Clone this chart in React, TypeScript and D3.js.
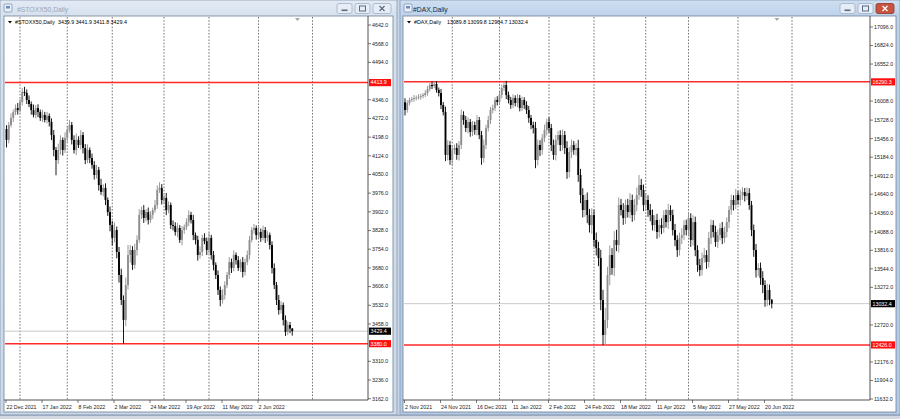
import React from 'react';
import * as d3 from 'd3';

// ---------- STOXX50 daily (22 Dec 2021 .. 23 Jun 2022) ----------
const STOXX_FIRST_OPEN = 4230;
const STOXX_CLOSE = [
  4187, 4246, 4274, 4297, 4313, 4305, 4337, 4377, 4373, 4345,
  4329, 4305, 4286, 4313, 4297, 4274, 4286, 4266, 4282, 4258,
  4206, 4147, 4107, 4147, 4187, 4147, 4195, 4226, 4246, 4187,
  4147, 4187, 4167, 4206, 4155, 4107, 4147, 4115, 4088, 4048,
  4068, 4008, 3981, 3997, 3949, 3901, 3850, 3799, 3830, 3743,
  3652, 3553, 3474, 3612, 3731, 3751, 3692, 3751, 3791, 3890,
  3909, 3878, 3901, 3870, 3890, 3909, 3929, 3989, 3997, 3949,
  3957, 3909, 3929, 3850, 3846, 3822, 3838, 3791, 3830, 3842,
  3862, 3890, 3870, 3810, 3791, 3731, 3743, 3799, 3786, 3751,
  3799, 3731, 3692, 3652, 3593, 3553, 3573, 3612, 3652, 3703,
  3680, 3731, 3711, 3680, 3703, 3664, 3703, 3731, 3791, 3830,
  3838, 3810, 3822, 3799, 3830, 3799, 3810, 3771, 3680, 3612,
  3553, 3513, 3533, 3474, 3426, 3454, 3439.9, 3429.4,
];
const STOXX_UPPER_WICK = [
  15, 12, 18, 10, 14, 20, 12, 16, 20, 14,
  18, 10, 22, 12, 15, 10, 20, 12, 16, 10,
  14, 20, 12, 25, 18, 10, 22, 15, 20, 12,
  18, 25, 14, 20, 12, 16, 22, 10, 18, 15,
  20, 12, 25, 14, 18, 10, 22, 16, 30, 14,
  20, 25, 18, 30, 40, 20, 15, 25, 18, 22,
  14, 20, 12, 18, 15, 10, 20, 18, 22, 15,
  12, 20, 14, 10, 18, 15, 20, 12, 16, 10,
  14, 18, 12, 20, 10, 16, 22, 12, 18, 14,
  20, 12, 16, 10, 18, 14, 22, 15, 12, 20,
  14, 18, 10, 16, 12, 20, 14, 18, 15, 12,
  16, 10, 20, 14, 18, 12, 15, 10, 14, 18,
  12, 20, 15, 10, 18, 14, 12, 2,
];
const STOXX_LOWER_WICK = [
  30, 14, 10, 16, 12, 18, 10, 14, 12, 16,
  12, 18, 10, 14, 20, 12, 16, 10, 14, 18,
  20, 25, 60, 15, 18, 22, 12, 16, 10, 18,
  14, 20, 12, 18, 22, 16, 12, 20, 15, 18,
  14, 22, 12, 18, 20, 15, 25, 30, 18, 25,
  30, 20, 94, 25, 18, 30, 20, 15, 22, 12,
  16, 20, 14, 18, 12, 16, 10, 15, 12, 18,
  14, 20, 12, 16, 18, 14, 20, 12, 22, 15,
  12, 16, 14, 20, 18, 22, 14, 16, 12, 20,
  14, 18, 22, 16, 20, 25, 14, 18, 12, 16,
  20, 14, 18, 12, 16, 22, 14, 12, 18, 10,
  14, 18, 12, 16, 10, 20, 14, 18, 22, 16,
  20, 18, 14, 22, 16, 12, 18, 17.6,
];
const STOXX_PRICE_TICKS = [4642, 4568, 4494, 4346, 4272, 4198, 4124, 4050, 3976, 3902, 3828, 3754, 3680, 3606, 3532, 3458, 3310, 3236, 3162];
const STOXX_LEVELS = [4413.9, 3380.0];
const STOXX_DATE_LABELS = ['22 Dec 2021', '17 Jan 2022', '8 Feb 2022', '2 Mar 2022', '24 Mar 2022', '19 Apr 2022', '11 May 2022', '2 Jun 2022'];
const STOXX_DATE_BARS = [0, 16, 32, 48, 64, 80, 96, 112];
const STOXX_MONTH_GRID = [6, 27, 47, 70, 90, 112, 136];
const STOXX_INFO = '3439.9 3441.9 3411.8 3429.4';

// ---------- DAX daily (2 Nov 2021 .. 23 Jun 2022) ----------
const DAX_FIRST_OPEN = 15990;
const DAX_CLOSE = [
  15877, 15980, 16024, 16038, 16053, 16060, 16068, 16082, 16097, 16126,
  16185, 16244, 16229, 16259, 16171, 16126, 15950, 15847, 15216, 15363,
  15142, 15289, 15319, 15216, 15363, 15803, 15730, 15612, 15700, 15554,
  15656, 15583, 15730, 15509, 15172, 15363, 15612, 15730, 15877, 15906,
  16024, 15994, 16097, 16200, 16244, 16097, 16024, 15950, 16053, 15980,
  16053, 15906, 16024, 15950, 15877, 15759, 15656, 15612, 15142, 15363,
  15289, 15465, 15583, 15700, 15612, 15363, 15216, 15436, 15509, 15363,
  15509, 15319, 14966, 15260, 15363, 15289, 15319, 14922, 14628, 14408,
  14555, 14334, 14187, 14334, 13967, 13850, 13703, 13086, 12572, 12792,
  13453, 13747, 13556, 13967, 13894, 14481, 14408, 14290, 14481, 14378,
  14555, 14334, 14481, 14628, 14775, 14702, 14481, 14555, 14408, 14334,
  14187, 14261, 14085, 14187, 14143, 14334, 14231, 14408, 14334, 14114,
  13967, 13820, 13996, 14040, 14187, 14114, 14290, 13967, 14231, 13820,
  13600, 13526, 13703, 13747, 13644, 13996, 14187, 14085, 13938, 14040,
  14143, 13996, 14085, 14231, 14408, 14555, 14481, 14628, 14555, 14628,
  14672, 14613, 14657, 14481, 14114, 13820, 13526, 13556, 13409, 13306,
  13086, 13233, 13089.8, 13032.4,
];
const DAX_UPPER_WICK = [
  60, 40, 35, 30, 45, 30, 40, 35, 30, 40,
  45, 30, 50, 31, 40, 35, 60, 45, 80, 70,
  60, 75, 50, 70, 60, 80, 55, 60, 70, 45,
  60, 50, 70, 45, 60, 80, 50, 60, 45, 50,
  40, 55, 45, 50, 41, 60, 50, 45, 55, 40,
  60, 45, 50, 40, 55, 60, 45, 50, 90, 80,
  70, 60, 80, 50, 70, 60, 80, 75, 60, 70,
  80, 60, 100, 70, 80, 60, 70, 120, 90, 100,
  80, 110, 90, 100, 80, 110, 90, 120, 150, 180,
  120, 140, 100, 130, 150, 110, 90, 100, 80, 90,
  100, 80, 90, 110, 147, 90, 80, 100, 70, 90,
  80, 70, 90, 80, 100, 70, 80, 90, 70, 80,
  90, 70, 80, 100, 70, 80, 90, 70, 100, 80,
  70, 90, 80, 100, 70, 90, 80, 70, 90, 80,
  70, 90, 80, 70, 60, 80, 70, 90, 60, 80,
  70, 60, 80, 70, 60, 80, 90, 70, 80, 100,
  70, 90, 80, 10,
];
const DAX_LOWER_WICK = [
  80, 40, 35, 30, 40, 35, 30, 40, 35, 30,
  40, 35, 45, 30, 40, 50, 60, 50, 90, 80,
  70, 80, 60, 70, 80, 60, 70, 60, 80, 70,
  60, 70, 80, 60, 100, 70, 60, 50, 60, 50,
  45, 50, 40, 50, 45, 60, 50, 55, 45, 50,
  60, 50, 45, 55, 60, 70, 60, 80, 120, 80,
  90, 70, 60, 80, 70, 90, 70, 80, 70, 90,
  80, 90, 100, 80, 90, 70, 80, 100, 120, 110,
  100, 120, 110, 130, 100, 110, 120, 150, 146, 160,
  120, 150, 100, 120, 90, 110, 80, 100, 90, 80,
  90, 100, 80, 90, 70, 100, 90, 80, 100, 90,
  80, 90, 100, 80, 90, 70, 80, 100, 90, 80,
  90, 100, 80, 90, 70, 80, 90, 100, 80, 90,
  100, 90, 80, 70, 100, 80, 90, 80, 70, 90,
  80, 90, 70, 80, 90, 70, 80, 60, 70, 80,
  70, 80, 60, 70, 90, 100, 110, 90, 100, 120,
  100, 90, 80, 67.7,
];
const DAX_PRICE_TICKS = [17096, 16824, 16552, 16008, 15728, 15456, 15184, 14912, 14640, 14360, 14088, 13816, 13544, 13272, 12720, 12176, 11904, 11632];
const DAX_LEVELS = [16290.3, 12426.0];
const DAX_DATE_LABELS = ['2 Nov 2021', '24 Nov 2021', '16 Dec 2021', '11 Jan 2022', '2 Feb 2022', '24 Feb 2022', '18 Mar 2022', '11 Apr 2022', '5 May 2022', '27 May 2022', '20 Jun 2022'];
const DAX_DATE_BARS = [0, 16, 32, 48, 64, 80, 96, 112, 128, 144, 160];
const DAX_MONTH_GRID = [21, 42, 64, 84, 107, 126, 148, 172];
const DAX_INFO = '13089.8 13099.8 12964.7 13032.4';

const FONT = 'Liberation Sans, Arial, sans-serif';

type PanelProps = {
  id: string;
  wx0: number; wx1: number; active: boolean; title: string;
  plotL: number; axisX: number; plotT: number; plotB: number;
  xRange: [number, number];
  yDomain: [number, number]; yRange: [number, number];
  firstOpen: number; closes: number[]; uw: number[]; lw: number[];
  priceTicks: number[]; levels: number[];
  dateLabels: string[]; dateBars: number[]; grid: number[];
  info: string; infoX: number; labelW: number;
};

function Button({ x, w, kind, active }: { x: number; w: number; kind: string; active: boolean }) {
  const isClose = kind === 'close' && active;
  const cx = x + w / 2, cy = 8.5;
  const ic = isClose ? '#fff' : '#5a6b82';
  return (
    <g>
      <rect x={x} y={3.5} width={w} height={10} rx={2} fill={isClose ? '#c8543f' : '#e6edf6'} stroke={isClose ? '#8d3526' : '#9fb0c6'} strokeWidth={0.8} />
      {kind === 'min' && <rect x={cx - 3} y={cy + 1} width={6} height={1.6} fill={ic} />}
      {kind === 'max' && <rect x={cx - 3} y={cy - 2.5} width={6} height={5} fill="none" stroke={ic} strokeWidth={1} />}
      {kind === 'close' && (
        <g stroke={ic} strokeWidth={1.3}>
          <line x1={cx - 2.5} y1={cy - 2.5} x2={cx + 2.5} y2={cy + 2.5} />
          <line x1={cx + 2.5} y1={cy - 2.5} x2={cx - 2.5} y2={cy + 2.5} />
        </g>
      )}
    </g>
  );
}

function Panel(p: PanelProps) {
  const x = d3.scaleLinear().domain([0, 160]).range(p.xRange);
  const y = d3.scaleLinear().domain(p.yDomain).range(p.yRange);
  const bars = p.closes.map((c, i) => {
    const o = i === 0 ? p.firstOpen : p.closes[i - 1];
    return { i, o, c, h: Math.max(o, c) + p.uw[i], l: Math.min(o, c) - p.lw[i] };
  });
  const last = p.closes[p.closes.length - 1];
  const clipId = `clip-${p.id}`;
  const frame = p.active ? `url(#frameA)` : `url(#frameI)`;
  const bw = 18;
  return (
    <g>
      <defs>
        <clipPath id={clipId}>
          <rect x={p.plotL} y={p.plotT} width={p.axisX - p.plotL} height={p.plotB - p.plotT} />
        </clipPath>
      </defs>
      {/* window frame */}
      <rect x={p.wx0} y={0} width={p.wx1 - p.wx0} height={415} fill={frame} stroke="#8798b0" strokeWidth={0.8} />
      {/* icon */}
      <rect x={p.wx0 + 4} y={4} width={8} height={8} rx={1} fill="#e9f0f8" stroke="#7d93b4" strokeWidth={0.8} />
      <rect x={p.wx0 + 6} y={6} width={4} height={2.5} fill="#6d8cc0" />
      <text x={p.wx0 + (p.active ? 13 : 17)} y={12} fontFamily={FONT} fontSize={6.8} fill={p.active ? '#1d2533' : '#9aa6b6'}>{p.title}</text>
      <Button x={p.wx1 - 60} w={bw - 3} kind="min" active={p.active} />
      <Button x={p.wx1 - 42} w={bw - 3} kind="max" active={p.active} />
      <Button x={p.wx1 - 24} w={bw} kind="close" active={p.active} />
      {/* client area */}
      <rect x={p.plotL - 1} y={p.plotT - 1} width={p.wx1 - p.wx0 - (p.plotL - 1 - p.wx0) - 4} height={412 - p.plotT + 1} fill="#ffffff" stroke="#6f7f95" strokeWidth={0.8} />
      {/* grid */}
      {p.grid.map((g) => (
        <line key={`g${g}`} x1={x(g)} x2={x(g)} y1={p.plotT} y2={p.plotB} stroke="#3a3a3a" strokeWidth={0.7} strokeDasharray="1.6 1.6" />
      ))}
      {/* last price line */}
      <line x1={p.plotL} x2={p.axisX} y1={y(last)} y2={y(last)} stroke="#c4c4c4" strokeWidth={0.9} />
      {/* levels */}
      {p.levels.map((lv) => (
        <line key={`l${lv}`} x1={p.plotL} x2={p.axisX} y1={y(lv)} y2={y(lv)} stroke="#ff2a2a" strokeWidth={1.5} />
      ))}
      {/* candles */}
      <g clipPath={`url(#${clipId})`}>
        {bars.map((b) => {
          const cx = x(b.i);
          const up = b.c >= b.o;
          const col = up ? '#8e8e8e' : '#000000';
          const yt = y(Math.max(b.o, b.c));
          const yb = y(Math.min(b.o, b.c));
          return (
            <g key={b.i}>
              <line x1={cx} x2={cx} y1={y(b.h)} y2={y(b.l)} stroke={col} strokeWidth={0.9} />
              <rect x={cx - 0.95} y={yt} width={1.9} height={Math.max(0.8, yb - yt)} fill={col} />
            </g>
          );
        })}
      </g>
      {/* chart shift marker */}
      <path d={`M${x(bars.length + 1.3) - 2.5},${p.plotT + 1} h5 l-2.5,3 z`} fill="#a8a8a8" />
      {/* info line */}
      <path d={`M${p.plotL + 3},${p.plotT + 4} h4 l-2,2.6 z`} fill="#000" />
      <text x={p.plotL + 10} y={p.plotT + 7} fontFamily={FONT} fontSize={5.3} fill="#000">{p.title}</text>
      <text x={p.infoX} y={p.plotT + 7} fontFamily={FONT} fontSize={5.3} fill="#000">{p.info}</text>
      {/* axes */}
      <line x1={p.axisX} x2={p.axisX} y1={p.plotT - 1} y2={p.plotB} stroke="#404040" strokeWidth={0.9} />
      <line x1={p.plotL - 1} x2={p.axisX} y1={p.plotB} y2={p.plotB} stroke="#404040" strokeWidth={0.9} />
      {p.priceTicks.map((t) => (
        <g key={`t${t}`}>
          <line x1={p.axisX} x2={p.axisX + 3} y1={y(t)} y2={y(t)} stroke="#404040" strokeWidth={0.7} />
          <text x={p.axisX + 4} y={y(t)} dy="0.35em" fontFamily={FONT} fontSize={5.3} fill="#1a1a1a">{t.toFixed(1)}</text>
        </g>
      ))}
      {p.levels.map((lv) => (
        <g key={`lv${lv}`}>
          <rect x={p.axisX + 1} y={y(lv) - 3.6} width={p.labelW} height={7.2} fill="#ff1010" />
          <text x={p.axisX + 2.5} y={y(lv)} dy="0.35em" fontFamily={FONT} fontSize={5.3} fill="#ffffff">{lv.toFixed(1)}</text>
        </g>
      ))}
      <rect x={p.axisX + 1} y={y(last) - 3.6} width={p.labelW} height={7.2} fill="#000000" />
      <text x={p.axisX + 2.5} y={y(last)} dy="0.35em" fontFamily={FONT} fontSize={5.3} fill="#ffffff">{last.toFixed(1)}</text>
      {p.dateBars.map((d, k) => (
        <g key={`d${d}`}>
          <line x1={x(d) - 0.5} x2={x(d) - 0.5} y1={p.plotB} y2={p.plotB + 3} stroke="#404040" strokeWidth={0.7} />
          <text x={x(d)} y={p.plotB + 8.5} fontFamily={FONT} fontSize={5.3} fill="#1a1a1a">{p.dateLabels[k]}</text>
        </g>
      ))}
    </g>
  );
}

export default function App() {
  return (
    <svg width={900} height={419} viewBox="0 0 900 419" style={{ position: 'fixed', left: 0, top: 0, display: 'block' }}>
      <defs>
        <linearGradient id="frameI" x1="0" y1="0" x2="0" y2="1">
          <stop offset="0" stopColor="#e2eaf4" />
          <stop offset="0.04" stopColor="#d6e1ee" />
          <stop offset="1" stopColor="#ccd9ea" />
        </linearGradient>
        <linearGradient id="frameA" x1="0" y1="0" x2="0" y2="1">
          <stop offset="0" stopColor="#cfdff2" />
          <stop offset="0.04" stopColor="#bcd1ea" />
          <stop offset="1" stopColor="#b3cae6" />
        </linearGradient>
      </defs>
      <rect x={0} y={0} width={900} height={419} fill="#c9d6e6" />
      <Panel
        id="stoxx" wx0={0} wx1={397} active={false} title="#STOXX50,Daily"
        plotL={5} axisX={368} plotT={17} plotB={400}
        xRange={[6.5, 366.5]} yDomain={[3162, 4642]} yRange={[398.7, 25]}
        firstOpen={STOXX_FIRST_OPEN} closes={STOXX_CLOSE} uw={STOXX_UPPER_WICK} lw={STOXX_LOWER_WICK}
        priceTicks={STOXX_PRICE_TICKS} levels={STOXX_LEVELS}
        dateLabels={STOXX_DATE_LABELS} dateBars={STOXX_DATE_BARS} grid={STOXX_MONTH_GRID}
        info={STOXX_INFO} infoX={58} labelW={22}
      />
      <Panel
        id="dax" wx0={400} wx1={900} active={true} title="#DAX,Daily"
        plotL={404} axisX={870} plotT={17} plotB={400}
        xRange={[405, 765]} yDomain={[11632, 17096]} yRange={[399, 27]}
        firstOpen={DAX_FIRST_OPEN} closes={DAX_CLOSE} uw={DAX_UPPER_WICK} lw={DAX_LOWER_WICK}
        priceTicks={DAX_PRICE_TICKS} levels={DAX_LEVELS}
        dateLabels={DAX_DATE_LABELS} dateBars={DAX_DATE_BARS} grid={DAX_MONTH_GRID}
        info={DAX_INFO} infoX={447} labelW={24}
      />
      <rect x={0} y={415} width={900} height={4} fill="#d3d9e2" />
      <line x1={0} x2={900} y1={415.3} y2={415.3} stroke="#7d8fa8" strokeWidth={0.8} />
    </svg>
  );
}
